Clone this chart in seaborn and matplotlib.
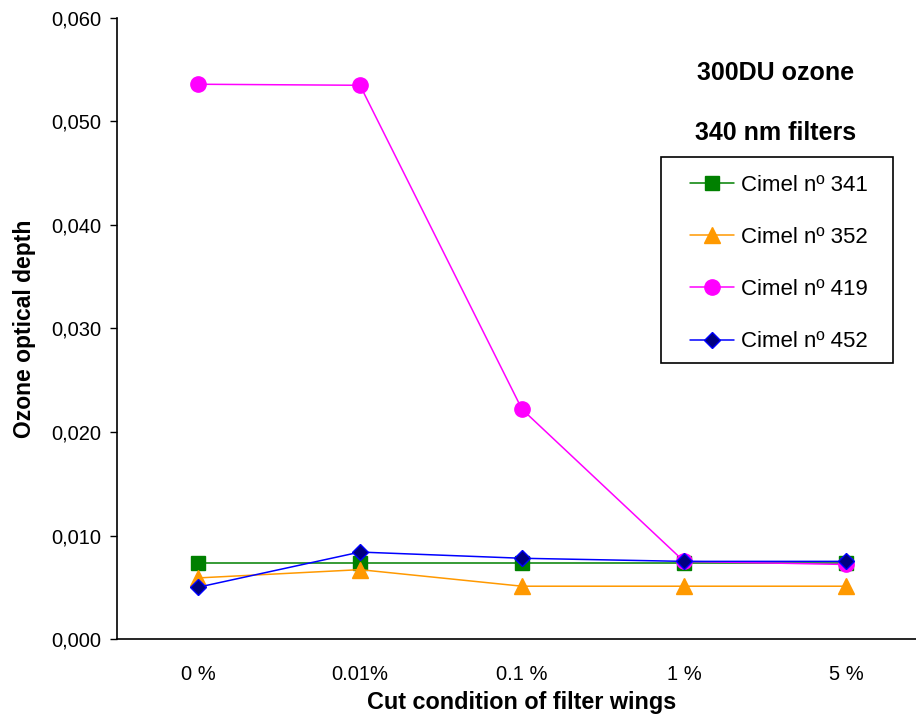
import numpy as np
import pandas as pd
import matplotlib
matplotlib.use("Agg")
import matplotlib.pyplot as plt
import seaborn as sns
from matplotlib.ticker import FuncFormatter, FixedLocator
from matplotlib.patches import Rectangle

# data
cut_labels = ["0 %", "0.01%", "0.1 %", "1 %", "5 %"]
cimel_341 = [0.0073, 0.0073, 0.0073, 0.0073, 0.0073]
cimel_352 = [0.0059, 0.0067, 0.0051, 0.0051, 0.0051]
cimel_419 = [0.0536, 0.0535, 0.0222, 0.0075, 0.0072]
cimel_452 = [0.0050, 0.0084, 0.0078, 0.0075, 0.0075]
series_names = ["Cimel nº 341", "Cimel nº 352", "Cimel nº 419", "Cimel nº 452"]

sns.set_style("white")
plt.rcParams['font.family'] = ['Liberation Sans', 'DejaVu Sans']
plt.rcParams['text.color'] = 'black'
plt.rcParams['axes.labelcolor'] = 'black'
plt.rcParams['xtick.color'] = 'black'
plt.rcParams['ytick.color'] = 'black'

rows = []
for name, vals in zip(series_names, [cimel_341, cimel_352, cimel_419, cimel_452]):
    for i, v in enumerate(vals):
        rows.append({"pos": i, "value": v, "instrument": name})
df = pd.DataFrame(rows)

palette = {series_names[0]: "#008000", series_names[1]: "#FF9900",
           series_names[2]: "#FF00FF", series_names[3]: "#0000FF"}
markers = {series_names[0]: "s", series_names[1]: "^",
           series_names[2]: "o", series_names[3]: "D"}
face = {series_names[0]: "#008000", series_names[1]: "#FF9900",
        series_names[2]: "#FF00FF", series_names[3]: "#000080"}
msize = {series_names[0]: 10.5, series_names[1]: 11,
         series_names[2]: 11, series_names[3]: 8.5}

fig = plt.figure(figsize=(9.16, 7.2), dpi=100)
ax = fig.add_axes([117 / 916, 81 / 720, 810 / 916, 621 / 720])

sns.lineplot(data=df, x="pos", y="value", hue="instrument", style="instrument",
             palette=palette, markers=markers, dashes=False, linewidth=1.1,
             ax=ax, legend=False)

# fix marker colours per series
handles = []
for line, name in zip(ax.lines, series_names):
    line.set_markeredgecolor(palette[name])
    line.set_markerfacecolor(face[name])
    line.set_markersize(msize[name])
    line.set_markeredgewidth(1)
    h, = ax.plot([], [], color=palette[name], marker=markers[name],
                 markerfacecolor=face[name], markeredgecolor=palette[name],
                 markersize=msize[name], linewidth=1.1, label=name)
    handles.append(h)

ax.set_xlim(-0.5, 4.5)
ax.set_ylim(0, 0.060)
ax.set_yticks(np.arange(0, 0.0601, 0.01))
ax.yaxis.set_major_formatter(FuncFormatter(lambda v, p: f"{v:.3f}".replace(".", ",")))
ax.set_xticks(range(len(cut_labels)))
ax.set_xticklabels(cut_labels)
ax.xaxis.set_minor_locator(FixedLocator([0.5, 1.5, 2.5, 3.5]))
ax.tick_params(axis="x", which="major", length=0, labelsize=14.5, pad=19)
ax.tick_params(axis="x", which="minor", length=7, direction="in", width=1, color="black")
ax.tick_params(axis="y", which="major", length=5, direction="out", width=1,
               color="black", labelsize=14.5, left=True, pad=6)

for side in ["left", "bottom"]:
    ax.spines[side].set_color("black")
    ax.spines[side].set_linewidth(1.2)
ax.spines["top"].set_visible(False)
ax.spines["right"].set_visible(False)

ax.set_xlabel("Cut condition of filter wings", fontsize=16.8, fontweight="bold", labelpad=5)
ax.set_ylabel("Ozone optical depth", fontsize=16.5, fontweight="bold", labelpad=11)

# legend without its own frame, box drawn separately
leg = ax.legend(handles=handles, loc="upper left", bbox_to_anchor=(690 / 916, 1 - 175 / 720),
                bbox_transform=fig.transFigure, fontsize=16, frameon=False,
                handlelength=2.0, labelspacing=1.4, borderpad=0,
                handletextpad=0.3, borderaxespad=0)
fig.patches.append(Rectangle((661 / 916, 1 - 363 / 720), 232 / 916, 206 / 720,
                             transform=fig.transFigure, fill=False,
                             edgecolor="black", linewidth=1.2))

fig.text(776 / 916, 1 - 73 / 720, "300DU ozone", ha="center", va="center",
         fontsize=18, fontweight="bold")
fig.text(776 / 916, 1 - 133 / 720, "340 nm filters", ha="center", va="center",
         fontsize=18, fontweight="bold")

fig.savefig("out.png", dpi=100)
